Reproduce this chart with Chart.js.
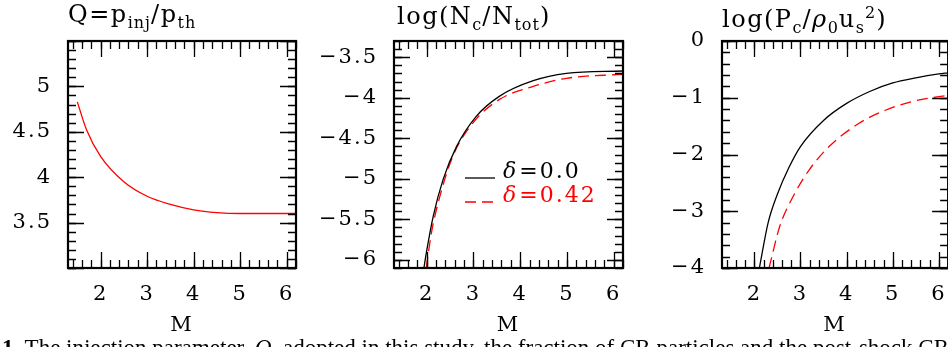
<!DOCTYPE html>
<html>
<head>
<meta charset="utf-8">
<script src="https://cdn.jsdelivr.net/npm/chart.js@4.4.0/dist/chart.umd.min.js"></script>
<style>
html, body { margin: 0; padding: 0; background: #fff; width: 948px; height: 347px; overflow: hidden; position: relative; }
canvas { position: absolute; top: 0; }
.ttl { position: absolute; font-family: "DejaVu Serif", serif; font-size: 24px; line-height: 24px; letter-spacing: 1.5px; white-space: nowrap; color: #000; }
.ttl sub, .ttl sup { font-size: 16px; line-height: 0; letter-spacing: 1px; }
.ttl sub { vertical-align: -6px; }
.ttl sup { vertical-align: 9px; }
#caption { position: absolute; left: 2px; top: 336px; font-family: "Liberation Serif", serif; font-size: 23px; line-height: 23px; white-space: nowrap; color: #000; }
</style>
</head>
<body>
<canvas id="chartQ" width="310" height="347" style="left:0px"></canvas>
<canvas id="chartN" width="330" height="347" style="left:310px"></canvas>
<canvas id="chartP" width="330" height="347" style="left:630px"></canvas>

<div class="ttl" style="left:68px;top:2px">Q=p<sub>inj</sub>/p<sub>th</sub></div>
<div class="ttl" style="left:397px;top:4px">log(N<sub>c</sub>/N<sub>tot</sub>)</div>
<div class="ttl" style="left:722px;top:7px">log(P<sub>c</sub>/<i>ρ</i><sub>0</sub>u<sub>s</sub><sup>2</sup>)</div>
<div id="caption"><b>1.</b> The injection parameter, <i>Q</i>, adopted in this study, the fraction of CR particles and the post-shock CR pressure</div>

<script>
// Mach number axis, shared by all three panels
const xMin = 1.3, xMax = 6.2;
const xTicks = [2, 3, 4, 5, 6];

// panel 1: injection parameter Q
const mQ   = [1.5, 1.7, 2.0, 2.5, 3.0, 3.5, 4.0, 4.5, 5.0, 5.5, 6.0, 6.2];
const qVal = [4.83, 4.52, 4.23, 3.95, 3.79, 3.70, 3.64, 3.61, 3.60, 3.60, 3.60, 3.60];
const yTicksQ = [3.5, 4, 4.5, 5];

// panel 2: log(Nc/Ntot)
const mN0  = [1.94, 1.99, 2.14, 2.35, 2.64, 3.06, 3.56, 4.28, 4.99, 6.2];
const nN0  = [-6.1, -5.92, -5.46, -5.01, -4.60, -4.23, -3.98, -3.79, -3.70, -3.67];
const mN42 = [1.99, 2.10, 2.28, 2.56, 2.99, 3.56, 4.28, 4.99, 6.2];
const nN42 = [-6.1, -5.67, -5.22, -4.72, -4.31, -4.02, -3.86, -3.76, -3.71];
const yTicksN = [-6, -5.5, -5, -4.5, -4, -3.5];

// panel 3: log(Pc / rho0 us^2)
const mP0  = [2.11, 2.3, 2.5, 2.75, 3.0, 3.5, 4.0, 4.5, 5.0, 5.5, 6.0, 6.2];
const pP0  = [-4, -3.2, -2.7, -2.23, -1.86, -1.40, -1.10, -0.89, -0.74, -0.65, -0.58, -0.56];
const mP42 = [2.32, 2.55, 2.84, 3.19, 3.62, 4.27, 4.84, 5.41, 6.09, 6.2];
const pP42 = [-4, -3.27, -2.74, -2.27, -1.86, -1.45, -1.22, -1.07, -0.97, -0.96];
const yTicksP = [-4, -3, -2, -1, 0];

const legendNames = ['δ=0.0', 'δ=0.42'];

const labelFont = { family: 'DejaVu Serif', size: 21 };
const fmt = v => (v < 0 ? '\u2212' + (-v) : String(v));
const pts = (xs, ys) => xs.map((x, i) => ({ x: x, y: ys[i] }));

// wider glyph spacing, closer to the plotting-package font
const spacing = {
  id: 'spacing',
  beforeDraw(chart) { chart.ctx.letterSpacing = '2px'; }
};

// frame plus inward major/minor ticks on all four sides
const frameTicks = {
  id: 'frameTicks',
  afterDatasetsDraw(chart, args, o) {
    const { ctx, chartArea: a, scales: { x, y } } = chart;
    ctx.save();
    ctx.strokeStyle = '#000';
    ctx.lineWidth = 1.3;
    const run = (scale, step, len, horiz) => {
      const n0 = Math.ceil(scale.min / step - 1e-6), n1 = Math.floor(scale.max / step + 1e-6);
      for (let n = n0; n <= n1; n++) {
        const p = Math.round(scale.getPixelForValue(n * step)) + 0.5;
        ctx.beginPath();
        if (horiz) {
          ctx.moveTo(p, a.bottom); ctx.lineTo(p, a.bottom - len);
          ctx.moveTo(p, a.top); ctx.lineTo(p, a.top + len);
        } else {
          ctx.moveTo(a.left, p); ctx.lineTo(a.left + len, p);
          ctx.moveTo(a.right, p); ctx.lineTo(a.right - len, p);
        }
        ctx.stroke();
      }
    };
    run(x, 0.2, 8, true);
    run(x, 1, 16, true);
    run(y, o.yMinor, 8, false);
    run(y, o.yMajor, 16, false);
    ctx.lineWidth = 2.2;
    ctx.strokeRect(a.left, a.top, a.right - a.left, a.bottom - a.top);
    ctx.restore();
  }
};

// small legend inside the middle panel
const deltaLegend = {
  id: 'deltaLegend',
  afterDatasetsDraw(chart) {
    if (!chart.options.plugins.deltaLegend.show) return;
    const { ctx, chartArea: a } = chart;
    ctx.save();
    chart.data.datasets.forEach((ds, i) => {
      const yy = a.top + 137 + i * 24;
      ctx.strokeStyle = ds.borderColor;
      ctx.lineWidth = 1.3;
      ctx.setLineDash(ds.borderDash || []);
      ctx.beginPath();
      ctx.moveTo(a.left + 71, yy); ctx.lineTo(a.left + 101, yy);
      ctx.stroke();
      ctx.setLineDash([]);
      ctx.fillStyle = ds.borderColor;
      ctx.textBaseline = 'alphabetic';
      let tx = a.left + 109;
      ctx.font = 'italic 22px "DejaVu Serif"';
      ctx.fillText(ds.label[0], tx, yy);
      tx += ctx.measureText(ds.label[0]).width + 1;
      ctx.font = '22px "DejaVu Serif"';
      ctx.fillText(ds.label.slice(1), tx, yy);
    });
    ctx.restore();
  }
};

function makePanel(id, datasets, yMin, yMax, yTicks, yMajor, yMinor, yWidth, padRight, showLegend) {
  return new Chart(document.getElementById(id), {
    type: 'line',
    data: { datasets: datasets },
    options: {
      responsive: false,
      animation: false,
      layout: { padding: { top: 41, right: padRight, bottom: 0, left: 0 } },
      elements: { point: { radius: 0 }, line: { borderWidth: 1.3, cubicInterpolationMode: 'monotone' } },
      plugins: {
        legend: { display: false },
        tooltip: { enabled: false },
        frameTicks: { yMajor: yMajor, yMinor: yMinor },
        deltaLegend: { show: showLegend }
      },
      scales: {
        x: {
          type: 'linear', min: xMin, max: xMax,
          afterBuildTicks: s => { s.ticks = xTicks.map(v => ({ value: v })); },
          afterFit: s => { s.height = 79; },
          grid: { display: false, drawTicks: false },
          border: { display: false },
          ticks: { font: labelFont, color: '#000', padding: 14, maxRotation: 0, autoSkip: false, callback: fmt },
          title: { display: true, text: 'M', font: labelFont, color: '#000', padding: { top: 0, bottom: 9 } }
        },
        y: {
          type: 'linear', min: yMin, max: yMax,
          afterBuildTicks: s => { s.ticks = yTicks.map(v => ({ value: v })); },
          afterFit: s => { s.width = yWidth; },
          grid: { display: false, drawTicks: false },
          border: { display: false },
          ticks: { font: labelFont, color: '#000', padding: 16, autoSkip: false, callback: fmt }
        }
      }
    },
    plugins: [spacing, frameTicks, deltaLegend]
  });
}

makePanel('chartQ', [
  { label: 'Q', data: pts(mQ, qVal), borderColor: '#ff0000' }
], 3, 5.5, yTicksQ, 0.5, 0.1, 68, 14, false);

makePanel('chartN', [
  { label: legendNames[0], data: pts(mN0, nN0), borderColor: '#000000' },
  { label: legendNames[1], data: pts(mN42, nN42), borderColor: '#ff0000', borderDash: [11, 6] }
], -6.1, -3.3, yTicksN, 0.5, 0.1, 84, 17, true);

makePanel('chartP', [
  { label: legendNames[0], data: pts(mP0, pP0), borderColor: '#000000' },
  { label: legendNames[1], data: pts(mP42, pP42), borderColor: '#ff0000', borderDash: [11, 6] }
], -4, 0, yTicksP, 1, 0.2, 92, 10, false);
</script>
</body>
</html>
